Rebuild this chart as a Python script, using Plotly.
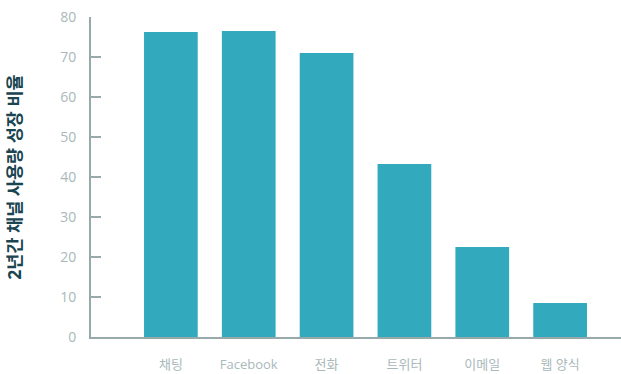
import plotly.graph_objects as go

categories = ["채팅", "Facebook", "전화", "트위터", "이메일", "웹 양식"]
values = [76.25, 76.5, 71, 43.25, 22.5, 8.5]
y_ticks = [0, 10, 20, 30, 40, 50, 60, 70, 80]

FONT = "Open Sans, Noto Sans CJK KR, sans-serif"
bar_color = "#32a9bd"
axis_color = "#97a9ab"
label_color = "#a9b9bb"

fig = go.Figure(go.Bar(x=categories, y=values, marker=dict(color=bar_color, line=dict(width=0)),
                       width=0.69))

fig.update_layout(
    width=621, height=374,
    margin=dict(l=91, r=0, t=17, b=37),
    plot_bgcolor="white", paper_bgcolor="white",
    font=dict(family=FONT, size=13, color=label_color),
    showlegend=False,
    xaxis=dict(
        range=[-1.026, 5.782],
        showline=True, linecolor=axis_color, linewidth=2,
        showgrid=False, ticks="", zeroline=False,
        tickfont=dict(size=13, color=label_color, family=FONT),
        ticklabelstandoff=14,
    ),
    yaxis=dict(
        range=[0, 80], tickvals=y_ticks,
        showline=True, linecolor=axis_color, linewidth=2,
        ticks="inside", ticklen=10, tickcolor=axis_color, tickwidth=2,
        showgrid=False, zeroline=False,
        tickfont=dict(size=14, color=label_color, family=FONT),
        ticklabelstandoff=10,
        title=dict(text="<b>2년간 채널 사용량 성장 비율</b>",
                   font=dict(size=17.5, color="#1a4551", family=FONT), standoff=34),
    ),
)

fig.write_html("out.html")
